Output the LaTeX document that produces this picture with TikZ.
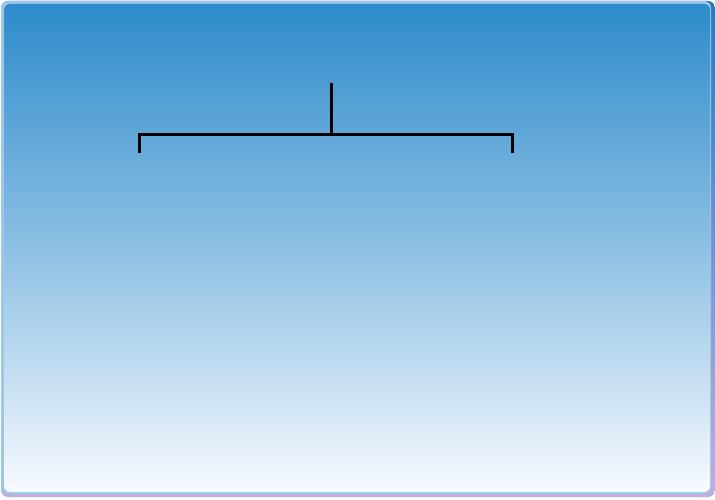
\documentclass[tikz,border=0pt]{standalone}
\begin{document}
\begin{tikzpicture}[x=1pt,y=-1pt,
  conn/.style={line width=3pt,black}]
\definecolor{topblue}{HTML}{2E8BCB}
\definecolor{midblue}{HTML}{8DC0E4}
\definecolor{botwhite}{HTML}{F8FAFE}
\definecolor{edgeblue}{HTML}{2A78B8}
\definecolor{edgelav}{HTML}{C4AEDD}
\definecolor{hilite}{HTML}{9CC6EA}
\useasboundingbox (0,0) rectangle (715,500);
% outer border (shadow edge, right/bottom)
\shade[top color=edgeblue,bottom color=edgelav,rounded corners=7pt] (1,1) rectangle (715,497);
% highlight top/left
\fill[hilite,rounded corners=7pt] (1,1) rectangle (711,494);
% main gradient body
\shade[top color=topblue,bottom color=botwhite,middle color=midblue,rounded corners=6pt] (4,4) rectangle (710,492);
% connectors
\coordinate (top) at (331,83);
\coordinate (mid) at (331,135);
\coordinate (lc) at (139,135);
\coordinate (rc) at (512,135);
\coordinate (l) at (139,153);
\coordinate (r) at (512,153);
\draw[conn] (top) -- (mid);
\draw[conn] (l) -- (lc) -- (rc) -- (r);
\end{tikzpicture}
\end{document}
